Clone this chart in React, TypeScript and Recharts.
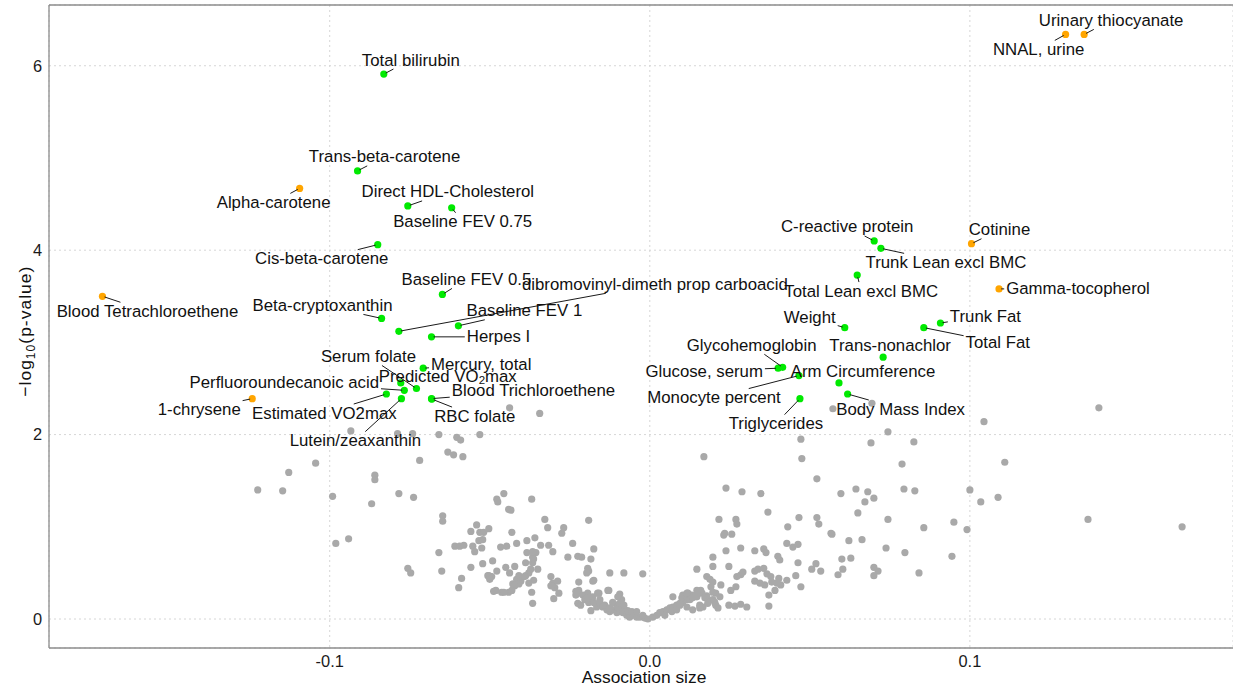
import React from 'react';
import {
  ScatterChart,
  Scatter,
  XAxis,
  YAxis,
  CartesianGrid,
  ReferenceLine,
} from 'recharts';

// Background exposures (not significant after correction): [association size, -log10 p]
const negativeSide: [number, number][] = [
  [-0.1225, 1.4], [-0.1147, 1.39], [-0.1128, 1.59], [-0.1044, 1.69], [-0.0991, 1.33], [-0.0981, 0.82],
  [-0.0941, 0.87], [-0.0934, 2.04], [-0.0869, 1.25], [-0.0859, 1.56], [-0.0859, 1.51], [-0.0788, 2.01],
  [-0.0784, 1.36], [-0.0756, 0.55], [-0.0747, 0.5], [-0.0741, 2.01], [-0.0738, 1.32], [-0.0719, 1.72],
  [-0.0659, 2.0], [-0.0603, 1.97], [-0.0591, 1.94], [-0.0531, 2.0], [-0.0631, 1.81], [-0.0613, 1.78],
  [-0.0584, 1.76], [-0.0438, 2.29], [-0.0344, 2.23],
  [-0.0659, 0.72], [-0.065, 0.52], [-0.0647, 1.12], [-0.0647, 1.06], [-0.0597, 0.34], [-0.0588, 0.44],
  [-0.0559, 0.56], [-0.0609, 0.79], [-0.0594, 0.79], [-0.0581, 0.8], [-0.0559, 0.95], [-0.0541, 1.02],
  [-0.0531, 0.94], [-0.0519, 0.94], [-0.0503, 0.98], [-0.0553, 0.79], [-0.0547, 0.73], [-0.0534, 0.85],
  [-0.0525, 0.77], [-0.0522, 0.86], [-0.0522, 0.6], [-0.0503, 0.47], [-0.0497, 0.46], [-0.0488, 0.3],
  [-0.0478, 0.52], [-0.0478, 1.3], [-0.0475, 1.27], [-0.0456, 1.36], [-0.0441, 1.19], [-0.0434, 1.18],
  [-0.0431, 0.94], [-0.0466, 0.78], [-0.0447, 0.79], [-0.045, 0.56], [-0.0438, 0.5], [-0.0463, 0.29],
  [-0.0441, 0.29], [-0.0428, 0.38], [-0.0422, 0.57], [-0.0416, 0.82], [-0.0416, 0.43], [-0.0409, 0.47],
  [-0.0403, 0.41], [-0.0388, 0.47], [-0.0384, 0.85], [-0.0384, 0.72], [-0.0388, 0.61], [-0.0369, 1.3],
  [-0.0359, 0.88], [-0.0356, 0.72], [-0.0366, 0.67], [-0.0366, 0.61], [-0.0363, 0.42], [-0.0369, 0.29],
  [-0.0366, 0.17], [-0.0378, 0.5], [-0.0378, 0.39], [-0.0341, 0.8], [-0.0328, 1.08], [-0.0319, 0.99],
  [-0.0316, 0.8], [-0.0303, 0.73], [-0.0309, 0.46], [-0.0303, 0.39], [-0.0297, 0.34], [-0.03, 0.22],
  [-0.0284, 0.28], [-0.0288, 0.41], [-0.0275, 0.93], [-0.0269, 0.99], [-0.0256, 0.67], [-0.0241, 0.82],
  [-0.0225, 0.68], [-0.0213, 0.67], [-0.0222, 0.4], [-0.0191, 1.07], [-0.0194, 0.55], [-0.0191, 0.52],
  [-0.0184, 0.65], [-0.0175, 0.76], [-0.0178, 0.41], [-0.0231, 0.3], [-0.0225, 0.28], [-0.0225, 0.17],
  [-0.0216, 0.15], [-0.0209, 0.26], [-0.0203, 0.21], [-0.0194, 0.28], [-0.0191, 0.18], [-0.0184, 0.23],
  [-0.0184, 0.09], [-0.0175, 0.18], [-0.0166, 0.13], [-0.0159, 0.28], [-0.0125, 0.5], [-0.0128, 0.31],
  [-0.0094, 0.27], [-0.0081, 0.5], [-0.0156, 0.17], [-0.0147, 0.13], [-0.0134, 0.1], [-0.0125, 0.08],
  [-0.0116, 0.1], [-0.0103, 0.07], [-0.0094, 0.08], [-0.0084, 0.07], [-0.0072, 0.04], [-0.0063, 0.02],
  [-0.0053, 0.04], [-0.0041, 0.02], [-0.0031, 0.02], [-0.0016, 0.01], [-0.0006, 0.0], [-0.0022, 0.49],
  [-0.0103, 0.15], [-0.0116, 0.18], [-0.01, 0.13], [-0.0088, 0.12], [-0.0078, 0.1], [-0.0069, 0.09],
  [-0.0056, 0.08], [-0.0094, 0.17], [-0.0088, 0.21], [-0.01, 0.24], [-0.0141, 0.15], [-0.0125, 0.12],
  [-0.0163, 0.28], [-0.0156, 0.21], [-0.0131, 0.31], [-0.0081, 0.15], [-0.0041, 0.08], [-0.0022, 0.04],
  [-0.0491, 0.63], [-0.0363, 0.65], [-0.0372, 0.54], [-0.035, 0.54], [-0.0391, 0.46], [-0.0409, 0.38],
  [-0.0422, 0.36], [-0.0431, 0.31], [-0.0456, 0.29], [-0.0481, 0.31], [-0.0494, 0.46], [-0.0506, 0.47],
  [-0.05, 0.43], [-0.0366, 0.73], [-0.0197, 0.5], [-0.0175, 0.42], [-0.0309, 0.36], [-0.0222, 0.31],
  [-0.0231, 0.26], [-0.0194, 0.23], [-0.0178, 0.24],
];

const positiveSide: [number, number][] = [
  [0.0169, 1.76], [0.0238, 1.42], [0.0288, 1.38], [0.0347, 1.36], [0.0369, 1.16], [0.0472, 1.95],
  [0.0475, 1.74], [0.0522, 1.52], [0.0216, 1.08], [0.0269, 1.08], [0.0272, 1.03], [0.0234, 0.93],
  [0.0256, 0.92], [0.0231, 0.91], [0.0431, 1.0], [0.0466, 1.1], [0.0522, 1.1], [0.0528, 1.03],
  [0.0566, 0.93], [0.0428, 0.82], [0.0447, 0.78], [0.0463, 0.81], [0.0197, 0.67], [0.0238, 0.74],
  [0.0284, 0.77], [0.0328, 0.74], [0.0356, 0.76], [0.0363, 0.72], [0.04, 0.68], [0.0406, 0.64],
  [0.0147, 0.54], [0.0197, 0.57], [0.0247, 0.57], [0.0328, 0.52], [0.0338, 0.54], [0.0356, 0.55],
  [0.0366, 0.49], [0.0378, 0.46], [0.0403, 0.44], [0.0428, 0.42], [0.0456, 0.47], [0.0463, 0.61],
  [0.0472, 0.35], [0.0506, 0.54], [0.0519, 0.6], [0.0534, 0.52], [0.0178, 0.46], [0.0188, 0.43],
  [0.0197, 0.4], [0.0222, 0.37], [0.0272, 0.46], [0.0284, 0.48], [0.0269, 0.35], [0.0253, 0.31],
  [0.0328, 0.41], [0.0359, 0.37], [0.0381, 0.4], [0.0409, 0.37], [0.0372, 0.26], [0.0372, 0.14],
  [0.0247, 0.15], [0.0266, 0.14], [0.0284, 0.16], [0.0303, 0.13], [0.0159, 0.31], [0.0178, 0.25],
  [0.0184, 0.2], [0.0203, 0.18], [0.0213, 0.12], [0.0219, 0.24], [0.0206, 0.28], [0.0197, 0.21],
  [0.0206, 0.15], [0.0344, 0.39], [0.0391, 0.31], [0.0397, 0.39], [0.0291, 0.51], [0.0191, 0.35],
  [0.0197, 0.29],
  [0.0009, 0.02], [0.0022, 0.04], [0.0031, 0.07], [0.0041, 0.08], [0.0053, 0.1], [0.0063, 0.12],
  [0.0072, 0.13], [0.0084, 0.15], [0.0094, 0.17], [0.0103, 0.18], [0.0116, 0.21], [0.0125, 0.23],
  [0.0134, 0.24], [0.0072, 0.24], [0.01, 0.23], [0.0119, 0.28], [0.0131, 0.26], [0.0156, 0.15],
  [0.0166, 0.13], [0.0103, 0.26], [0.0116, 0.28], [0.0125, 0.21], [0.0134, 0.23], [0.0147, 0.24],
  [0.0163, 0.28], [0.0172, 0.23], [0.0181, 0.17], [0.0094, 0.15], [0.0116, 0.13], [0.0134, 0.1],
  [0.0156, 0.12], [0.0047, 0.04], [0.0069, 0.08], [0.0084, 0.1], [0.0147, 0.31],
  [0.0572, 2.28], [0.0694, 2.34], [0.1403, 2.29], [0.1044, 2.14], [0.0744, 2.03], [0.0691, 1.91],
  [0.0825, 1.92], [0.0788, 1.68], [0.1109, 1.7], [0.0644, 1.41], [0.0597, 1.36], [0.0681, 1.38],
  [0.07, 1.31], [0.0672, 1.27], [0.0794, 1.41], [0.0828, 1.39], [0.1, 1.4], [0.1034, 1.27],
  [0.1088, 1.32], [0.065, 1.15], [0.1369, 1.08], [0.1663, 1.0], [0.0744, 1.08], [0.0856, 0.99],
  [0.095, 1.05], [0.0991, 0.97], [0.0569, 0.92], [0.0622, 0.85], [0.0663, 0.86], [0.0738, 0.77],
  [0.0797, 0.72], [0.0944, 0.68], [0.06, 0.65], [0.0628, 0.66], [0.0603, 0.54], [0.0588, 0.48],
  [0.07, 0.56], [0.0713, 0.52], [0.07, 0.47], [0.0841, 0.5],
];

// Significant exposures
const greenHits = [
  { name: 'Total bilirubin', x: -0.0831, y: 5.91 },
  { name: 'Trans-beta-carotene', x: -0.0913, y: 4.86 },
  { name: 'Direct HDL-Cholesterol', x: -0.0756, y: 4.48 },
  { name: 'Baseline FEV 0.75', x: -0.0619, y: 4.46 },
  { name: 'Cis-beta-carotene', x: -0.085, y: 4.06 },
  { name: 'Beta-cryptoxanthin', x: -0.0838, y: 3.26 },
  { name: 'dibromovinyl-dimeth prop carboacid', x: -0.0784, y: 3.12 },
  { name: 'Baseline FEV 0.5', x: -0.0648, y: 3.52 },
  { name: 'Baseline FEV 1', x: -0.0598, y: 3.18 },
  { name: 'Herpes I', x: -0.0682, y: 3.06 },
  { name: 'Mercury, total', x: -0.0708, y: 2.72 },
  { name: 'Predicted VO₂max', x: -0.0778, y: 2.56 },
  { name: 'Serum folate', x: -0.0729, y: 2.5 },
  { name: 'Perfluoroundecanoic acid', x: -0.0767, y: 2.48 },
  { name: 'Estimated VO2max', x: -0.0823, y: 2.44 },
  { name: 'Lutein/zeaxanthin', x: -0.0776, y: 2.39 },
  { name: 'Blood Trichloroethene', x: -0.0682, y: 2.39 },
  { name: 'RBC folate', x: -0.0681, y: 2.385 },
  { name: 'C-reactive protein', x: 0.0701, y: 4.1 },
  { name: 'Trunk Lean excl BMC', x: 0.0722, y: 4.02 },
  { name: 'Total Lean excl BMC', x: 0.0648, y: 3.73 },
  { name: 'Weight', x: 0.0609, y: 3.16 },
  { name: 'Trunk Fat', x: 0.0908, y: 3.21 },
  { name: 'Total Fat', x: 0.0856, y: 3.16 },
  { name: 'Trans-nonachlor', x: 0.0729, y: 2.84 },
  { name: 'Glycohemoglobin', x: 0.0415, y: 2.73 },
  { name: 'Glucose, serum', x: 0.0401, y: 2.72 },
  { name: 'Monocyte percent', x: 0.0466, y: 2.64 },
  { name: 'Arm Circumference', x: 0.0591, y: 2.56 },
  { name: 'Body Mass Index', x: 0.0618, y: 2.44 },
  { name: 'Triglycerides', x: 0.0469, y: 2.39 },
];

const orangeHits = [
  { name: 'Urinary thiocyanate', x: 0.1357, y: 6.34 },
  { name: 'NNAL, urine', x: 0.1299, y: 6.34 },
  { name: 'Alpha-carotene', x: -0.1094, y: 4.67 },
  { name: 'Cotinine', x: 0.1005, y: 4.07 },
  { name: 'Gamma-tocopherol', x: 0.1091, y: 3.58 },
  { name: 'Blood Tetrachloroethene', x: -0.171, y: 3.5 },
  { name: '1-chrysene', x: -0.1242, y: 2.39 },
];

const xTicks = [-0.1, 0, 0.1];
const yTicks = [0, 2, 4, 6];
const X_DOMAIN: [number, number] = [-0.1877, 0.1822];
const Y_DOMAIN: [number, number] = [-0.3145, 6.659];

// Repelled label placement: offset of the label centre from its point, in px
const labelOffsets: Record<string, [number, number]> = {
  'Total bilirubin': [27, -14],
  'Trans-beta-carotene': [27, -14],
  'Alpha-carotene': [-26, 14],
  'Direct HDL-Cholesterol': [40, -14],
  'Baseline FEV 0.75': [11, 14],
  'Cis-beta-carotene': [-56, 14],
  'Blood Tetrachloroethene': [45, 15],
  'Beta-cryptoxanthin': [-59, -13],
  'dibromovinyl-dimeth prop carboacid': [256, -47],
  'Baseline FEV 0.5': [24, -15],
  'Baseline FEV 1': [66, -15],
  'Herpes I': [67, 0],
  'Mercury, total': [58, -4],
  'Predicted VO₂max': [47, -7],
  'Serum folate': [-48, -32],
  'Perfluoroundecanoic acid': [-120, -8],
  'Estimated VO2max': [-62, 19],
  'Lutein/zeaxanthin': [-46, 42],
  'Blood Trichloroethene': [102, -8],
  'RBC folate': [43, 17],
  '1-chrysene': [-53, 11],
  'Urinary thiocyanate': [27, -14],
  'NNAL, urine': [-27, 15],
  'Cotinine': [28, -14],
  'Gamma-tocopherol': [79, 0],
  'C-reactive protein': [-27, -14],
  'Trunk Lean excl BMC': [65, 14],
  'Total Lean excl BMC': [4, 16],
  'Weight': [-35, -10],
  'Trunk Fat': [45, -7],
  'Total Fat': [74, 15],
  'Trans-nonachlor': [7, -12],
  'Glycohemoglobin': [-31, -22],
  'Glucose, serum': [-74, 3],
  'Monocyte percent': [-85, 22],
  'Arm Circumference': [24, -11],
  'Body Mass Index': [53, 15],
  'Triglycerides': [-24, 25],
};

const FONT = "'Liberation Sans', Arial, Helvetica, sans-serif";
const LABEL_SIZE = 16.8;
const TICK_SIZE = 16.4;
const TITLE_SIZE = 17.4;
const GREY = '#a9a9a9';
const GREEN = '#00ea00';
const ORANGE = '#ffa500';
const AXIS = '#8c8c8c';
const R = 3.6;

const toPoints = (rows: [number, number][]) => rows.map(([x, y]) => ({ x, y }));
const allHits = [...greenHits, ...orangeHits];

let measureCtx: CanvasRenderingContext2D | null = null;
function textWidth(text: string): number {
  if (!measureCtx) measureCtx = document.createElement('canvas').getContext('2d');
  if (!measureCtx) return text.length * LABEL_SIZE * 0.5;
  measureCtx.font = `${LABEL_SIZE}px 'Liberation Sans'`;
  return measureCtx.measureText(text.replace('₂', '2')).width;
}

function labelText(name: string) {
  const i = name.indexOf('₂');
  if (i < 0) return name;
  return [
    <tspan key="a">{name.slice(0, i)}</tspan>,
    <tspan key="b" fontSize={11.5} dy={4}>2</tspan>,
    <tspan key="c" dy={-4}>{name.slice(i + 1)}</tspan>,
  ];
}

const dot = (fill: string) => (p: any) => <circle cx={p.cx} cy={p.cy} r={R} fill={fill} />;

function HitLabel(p: any) {
  const { cx, cy, payload } = p;
  if (cx == null || cy == null) return <g />;
  const [dx, dy] = labelOffsets[payload.name] ?? [0, -14];
  const lx = cx + dx;
  const ly = cy + dy;
  const hw = textWidth(payload.name) / 2 + 2;
  const hh = 9;
  const len = Math.hypot(dx, dy);
  const s = Math.max(
    0,
    Math.abs(dx) > 0 ? 1 - hw / Math.abs(dx) : 0,
    Math.abs(dy) > 0 ? 1 - hh / Math.abs(dy) : 0
  );
  const s0 = len > 0 ? (R * 0.6) / len : 0;
  const showSeg = len * (s - s0) > 3;
  return (
    <g>
      {showSeg && (
        <line
          x1={cx + dx * s0}
          y1={cy + dy * s0}
          x2={cx + dx * s}
          y2={cy + dy * s}
          stroke="#1a1a1a"
          strokeWidth={1}
        />
      )}
      <text
        x={lx}
        y={ly}
        textAnchor="middle"
        dominantBaseline="central"
        fontFamily={FONT}
        fontSize={LABEL_SIZE}
        fill="#111"
      >
        {labelText(payload.name)}
      </text>
    </g>
  );
}

export default function App() {
  return (
    <div style={{ position: 'absolute', left: 0, top: 0, width: 1233, height: 688, background: '#fff' }}>
      <ScatterChart
        width={1233}
        height={688}
        margin={{ top: 5, right: 0, bottom: 0, left: 0 }}
        style={{ fontFamily: FONT }}
      >
        <CartesianGrid stroke="#d6d6d6" strokeDasharray="2 3" />
        <XAxis
          type="number"
          dataKey="x"
          domain={X_DOMAIN}
          allowDataOverflow
          ticks={xTicks}
          tickFormatter={(v: number) => v.toFixed(1)}
          height={40}
          tickLine={false}
          tickSize={5}
          axisLine={{ stroke: AXIS, strokeWidth: 1.3 }}
          tick={{ fontSize: TICK_SIZE, fill: '#1a1a1a', fontFamily: FONT }}
        />
        <YAxis
          type="number"
          dataKey="y"
          domain={Y_DOMAIN}
          allowDataOverflow
          ticks={yTicks}
          width={49}
          tickLine={false}
          tickSize={5}
          axisLine={{ stroke: AXIS, strokeWidth: 1.3 }}
          tick={{ fontSize: TICK_SIZE, fill: '#1a1a1a', fontFamily: FONT }}
        />
        <ReferenceLine y={Y_DOMAIN[1]} stroke={AXIS} strokeWidth={1.3} />
        <Scatter data={toPoints(negativeSide)} shape={dot(GREY)} isAnimationActive={false} />
        <Scatter data={toPoints(positiveSide)} shape={dot(GREY)} isAnimationActive={false} />
        <Scatter data={greenHits} shape={dot(GREEN)} isAnimationActive={false} />
        <Scatter data={orangeHits} shape={dot(ORANGE)} isAnimationActive={false} />
        <Scatter data={allHits} shape={HitLabel} isAnimationActive={false} />
      </ScatterChart>
      <svg
        width={1233}
        height={688}
        style={{ position: 'absolute', left: 0, top: 0, pointerEvents: 'none' }}
      >
        <text
          x={644}
          y={683}
          textAnchor="middle"
          fontFamily={FONT}
          fontSize={TITLE_SIZE}
          fill="#111"
        >
          Association size
        </text>
        <text
          transform="translate(31,331.7) rotate(-90)"
          textAnchor="middle"
          fontFamily={FONT}
          fontSize={TITLE_SIZE}
          fill="#111"
          textLength={130}
          lengthAdjust="spacing"
        >
          −log<tspan fontSize={12} dy={4}>10</tspan>
          <tspan dy={-4}>(p-value)</tspan>
        </text>
      </svg>
    </div>
  );
}
